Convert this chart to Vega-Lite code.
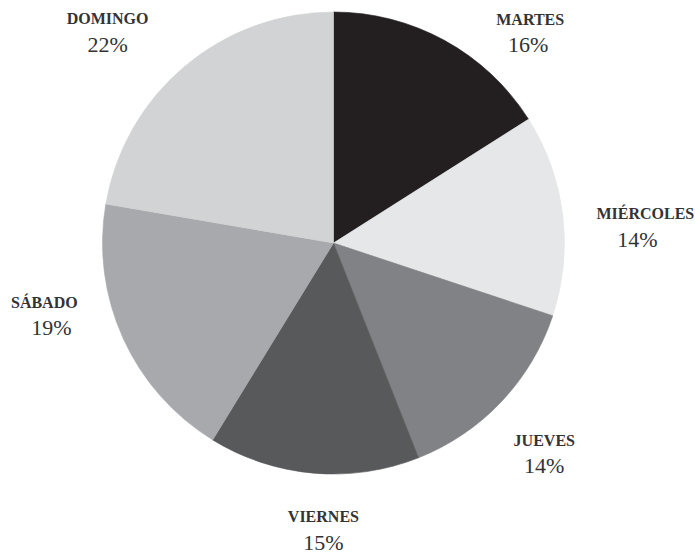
{
  "$schema": "https://vega.github.io/schema/vega-lite/v6.json",
  "width": 667,
  "height": 486,
  "autosize": {"type": "none"},
  "padding": {"left": 0, "top": 0, "right": 28, "bottom": 68},
  "background": "#ffffff",
  "config": {"view": {"stroke": null}},
  "data": {
    "values": [
      {"day": "MARTES", "pct": 0.16, "order": 1},
      {"day": "MIÉRCOLES", "pct": 0.141, "order": 2},
      {"day": "JUEVES", "pct": 0.139, "order": 3},
      {"day": "VIERNES", "pct": 0.1476, "order": 4},
      {"day": "SÁBADO", "pct": 0.1894, "order": 5},
      {"day": "DOMINGO", "pct": 0.223, "order": 6}
    ]
  },
  "encoding": {
    "theta": {"field": "pct", "type": "quantitative", "stack": true},
    "order": {"field": "order", "type": "ordinal"}
  },
  "layer": [
    {
      "mark": {"type": "arc", "outerRadius": 231, "strokeWidth": 0.6},
      "encoding": {
        "color": {"field": "day", "type": "nominal", "legend": null,
          "scale": {"domain": ["MARTES", "MIÉRCOLES", "JUEVES", "VIERNES", "SÁBADO", "DOMINGO"],
                    "range": ["#231f20", "#e6e7e8", "#808285", "#58595b", "#a7a9ac", "#d1d3d4"]}},
        "stroke": {"field": "day", "type": "nominal", "legend": null,
          "scale": {"domain": ["MARTES", "MIÉRCOLES", "JUEVES", "VIERNES", "SÁBADO", "DOMINGO"],
                    "range": ["#231f20", "#e6e7e8", "#808285", "#58595b", "#a7a9ac", "#d1d3d4"]}}
      }
    },
    {
      "mark": {"type": "text", "radius": 290, "font": "Liberation Serif", "fontSize": 16, "fontWeight": "bold", "letterSpacing": 0.3, "color": "#333333", "align": "center", "baseline": "middle", "dx": 57, "dy": 31},
      "encoding": {"text": {"condition": {"test": "datum.day === 'MARTES'", "field": "day", "type": "nominal"}, "value": ""}}
    },
    {
      "mark": {"type": "text", "radius": 290, "font": "Liberation Serif", "fontSize": 22, "fontWeight": 500, "color": "#333333", "align": "center", "baseline": "middle", "dx": 55, "dy": 56},
      "encoding": {"text": {"condition": {"test": "datum.day === 'MARTES'", "field": "pct", "type": "quantitative", "format": ".0%"}, "value": ""}}
    },
    {
      "mark": {"type": "text", "radius": 290, "font": "Liberation Serif", "fontSize": 16, "fontWeight": "bold", "letterSpacing": 0.3, "color": "#333333", "align": "center", "baseline": "middle", "dx": 24, "dy": 6},
      "encoding": {"text": {"condition": {"test": "datum.day === 'MIÉRCOLES'", "field": "day", "type": "nominal"}, "value": ""}}
    },
    {
      "mark": {"type": "text", "radius": 290, "font": "Liberation Serif", "fontSize": 22, "fontWeight": 500, "color": "#333333", "align": "center", "baseline": "middle", "dx": 16, "dy": 32},
      "encoding": {"text": {"condition": {"test": "datum.day === 'MIÉRCOLES'", "field": "pct", "type": "quantitative", "format": ".0%"}, "value": ""}}
    },
    {
      "mark": {"type": "text", "radius": 290, "font": "Liberation Serif", "fontSize": 16, "fontWeight": "bold", "letterSpacing": 0.3, "color": "#333333", "align": "center", "baseline": "middle", "dx": 0, "dy": -1},
      "encoding": {"text": {"condition": {"test": "datum.day === 'JUEVES'", "field": "day", "type": "nominal"}, "value": ""}}
    },
    {
      "mark": {"type": "text", "radius": 290, "font": "Liberation Serif", "fontSize": 22, "fontWeight": 500, "color": "#333333", "align": "center", "baseline": "middle", "dx": 0, "dy": 24},
      "encoding": {"text": {"condition": {"test": "datum.day === 'JUEVES'", "field": "pct", "type": "quantitative", "format": ".0%"}, "value": ""}}
    },
    {
      "mark": {"type": "text", "radius": 290, "font": "Liberation Serif", "fontSize": 16, "fontWeight": "bold", "letterSpacing": 0.3, "color": "#333333", "align": "center", "baseline": "middle", "dx": 15, "dy": -15},
      "encoding": {"text": {"condition": {"test": "datum.day === 'VIERNES'", "field": "day", "type": "nominal"}, "value": ""}}
    },
    {
      "mark": {"type": "text", "radius": 290, "font": "Liberation Serif", "fontSize": 22, "fontWeight": 500, "color": "#333333", "align": "center", "baseline": "middle", "dx": 15, "dy": 11},
      "encoding": {"text": {"condition": {"test": "datum.day === 'VIERNES'", "field": "pct", "type": "quantitative", "format": ".0%"}, "value": ""}}
    },
    {
      "mark": {"type": "text", "radius": 290, "font": "Liberation Serif", "fontSize": 16, "fontWeight": "bold", "letterSpacing": 0.3, "color": "#333333", "align": "center", "baseline": "middle", "dx": -25, "dy": -60},
      "encoding": {"text": {"condition": {"test": "datum.day === 'SÁBADO'", "field": "day", "type": "nominal"}, "value": ""}}
    },
    {
      "mark": {"type": "text", "radius": 290, "font": "Liberation Serif", "fontSize": 22, "fontWeight": 500, "color": "#333333", "align": "center", "baseline": "middle", "dx": -18, "dy": -35},
      "encoding": {"text": {"condition": {"test": "datum.day === 'SÁBADO'", "field": "pct", "type": "quantitative", "format": ".0%"}, "value": ""}}
    },
    {
      "mark": {"type": "text", "radius": 290, "font": "Liberation Serif", "fontSize": 16, "fontWeight": "bold", "letterSpacing": 0.3, "color": "#333333", "align": "center", "baseline": "middle", "dx": -39, "dy": -2},
      "encoding": {"text": {"condition": {"test": "datum.day === 'DOMINGO'", "field": "day", "type": "nominal"}, "value": ""}}
    },
    {
      "mark": {"type": "text", "radius": 290, "font": "Liberation Serif", "fontSize": 22, "fontWeight": 500, "color": "#333333", "align": "center", "baseline": "middle", "dx": -39, "dy": 24},
      "encoding": {"text": {"condition": {"test": "datum.day === 'DOMINGO'", "field": "pct", "type": "quantitative", "format": ".0%"}, "value": ""}}
    }
  ]
}
